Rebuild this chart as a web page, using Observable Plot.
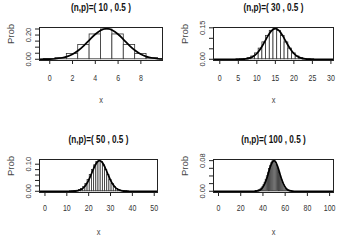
<!DOCTYPE html>
<html>
<head>
<meta charset="utf-8">
<script src="https://cdn.jsdelivr.net/npm/d3@7"></script>
<script src="https://cdn.jsdelivr.net/npm/@observablehq/plot@0.6"></script>
<style>
  html, body { margin: 0; padding: 0; background: #fff; }
  #chart { position: relative; width: 341px; height: 251px; overflow: hidden; }
  #chart svg { position: absolute; overflow: visible; }
</style>
</head>
<body>
<div id="chart"></div>
<script>
// Binomial(n, 0.5) probabilities with their normal approximation, four sample sizes.
const titles = ["(n,p)=( 10 , 0.5 )", "(n,p)=( 30 , 0.5 )", "(n,p)=( 50 , 0.5 )", "(n,p)=( 100 , 0.5 )"];

// n = 10
const k10 = [0, 1, 2, 3, 4, 5, 6, 7, 8, 9, 10];
const prob10 = [0.00098, 0.00977, 0.04395, 0.11719, 0.20508, 0.24609, 0.20508, 0.11719, 0.04395, 0.00977, 0.00098];
const curveX10 = [-1, -0.5, 0, 0.5, 1, 1.5, 2, 2.5, 3, 3.5, 4, 4.5, 5, 5.5, 6, 6.5, 7, 7.5, 8, 8.5, 9, 9.5, 10, 10.5, 11];
const curveY10 = [0.00019, 0.00059, 0.0017, 0.0044, 0.01028, 0.02177, 0.0417, 0.07229, 0.1134, 0.16088, 0.2066, 0.24001, 0.2523,
                  0.24001, 0.2066, 0.16088, 0.1134, 0.07229, 0.0417, 0.02177, 0.01028, 0.0044, 0.0017, 0.00059, 0.00019];

// n = 30
const k30 = [5, 6, 7, 8, 9, 10, 11, 12, 13, 14, 15, 16, 17, 18, 19, 20, 21, 22, 23, 24, 25];
const prob30 = [0.00013, 0.00055, 0.0019, 0.00545, 0.01332, 0.02798, 0.05088, 0.08055, 0.11154, 0.13544, 0.14446,
                0.13544, 0.11154, 0.08055, 0.05088, 0.02798, 0.01332, 0.00545, 0.0019, 0.00055, 0.00013];
const curveX30 = [-2, 4, 5, 6, 7, 8, 9, 10, 11, 12, 13, 14, 15, 16, 17, 18, 19, 20, 21, 22, 23, 24, 25, 26, 32];
const curveY30 = [0, 0.00005, 0.00019, 0.00066, 0.00204, 0.00555, 0.01322, 0.02751, 0.05013, 0.07995, 0.11157, 0.13628, 0.14567,
                  0.13628, 0.11157, 0.07995, 0.05013, 0.02751, 0.01322, 0.00555, 0.00204, 0.00066, 0.00019, 0.00005, 0];

// n = 50
const k50 = [12, 13, 14, 15, 16, 17, 18, 19, 20, 21, 22, 23, 24, 25, 26, 27, 28, 29, 30, 31, 32, 33, 34, 35, 36, 37, 38];
const prob50 = [0.00011, 0.00032, 0.00083, 0.002, 0.00437, 0.00875, 0.01604, 0.02701, 0.04186, 0.0598, 0.07883, 0.09596, 0.10796,
                0.11228, 0.10796, 0.09596, 0.07883, 0.0598, 0.04186, 0.02701, 0.01604, 0.00875, 0.00437, 0.002, 0.00083, 0.00032, 0.00011];
const curveX50 = [-3, 11, 12, 13, 14, 15, 16, 17, 18, 19, 20, 21, 22, 23, 24, 25, 26, 27, 28, 29, 30, 31, 32, 33, 34, 35, 36, 37, 38, 39, 53];
const curveY50 = [0, 0.00004, 0.00013, 0.00036, 0.00089, 0.00207, 0.00442, 0.00872, 0.01589, 0.02674, 0.04151, 0.0595, 0.07873, 0.09616,
                  0.10842, 0.11284, 0.10842, 0.09616, 0.07873, 0.0595, 0.04151, 0.02674, 0.01589, 0.00872, 0.00442, 0.00207,
                  0.00089, 0.00036, 0.00013, 0.00004, 0];

// n = 100
const k100 = [34, 35, 36, 37, 38, 39, 40, 41, 42, 43, 44, 45, 46, 47, 48, 49, 50,
              51, 52, 53, 54, 55, 56, 57, 58, 59, 60, 61, 62, 63, 64, 65, 66];
const prob100 = [0.00046, 0.00086, 0.00156, 0.0027, 0.00447, 0.00711, 0.01084, 0.01587, 0.02229, 0.03007, 0.03895, 0.04847,
                 0.05796, 0.06659, 0.07353, 0.07803, 0.07959, 0.07803, 0.07353, 0.06659, 0.05796, 0.04847, 0.03895, 0.03007,
                 0.02229, 0.01587, 0.01084, 0.00711, 0.00447, 0.0027, 0.00156, 0.00086, 0.00046];
const curveX100 = [-5, 30, 31, 32, 33, 34, 35, 36, 37, 38, 39, 40, 41, 42, 43, 44, 45, 46, 47, 48, 49, 50,
                   51, 52, 53, 54, 55, 56, 57, 58, 59, 60, 61, 62, 63, 64, 65, 66, 67, 68, 69, 70, 105];
const curveY100 = [0, 0.00003, 0.00006, 0.00012, 0.00025, 0.00048, 0.00089, 0.00158, 0.00272, 0.00448, 0.00709, 0.0108, 0.01579,
                   0.02218, 0.02995, 0.03884, 0.04839, 0.05794, 0.06664, 0.07365, 0.07821, 0.07979, 0.07821, 0.07365, 0.06664,
                   0.05794, 0.04839, 0.03884, 0.02995, 0.02218, 0.01579, 0.0108, 0.00709, 0.00448, 0.00272, 0.00158, 0.00089,
                   0.00048, 0.00025, 0.00012, 0.00006, 0.00003, 0];

// Axis ticks and which of them carry labels
const xTicks = [[0, 2, 4, 6, 8], [0, 5, 10, 15, 20, 25, 30], [0, 10, 20, 30, 40, 50], [0, 20, 40, 60, 80, 100]];
const yTicks = [[0, 0.05, 0.1, 0.15, 0.2, 0.25], [0, 0.05, 0.1, 0.15], [0, 0.02, 0.04, 0.06, 0.08, 0.1], [0, 0.02, 0.04, 0.06, 0.08]];
const yLabels = [[0, 0.2], [0, 0.15], [0, 0.1], [0, 0.08]];

// Scale domains (data range padded the way R pads plot regions)
const xDomains = [[-0.9, 9.9], [-1.7, 30.7], [-2.5, 51.5], [-4.5, 103.5]];
const yDomains = [[-0.0101, 0.2624], [-0.0058, 0.1515], [-0.0045, 0.1174], [-0.0032, 0.083]];

const ks = [k10, k30, k50, k100];
const probs = [prob10, prob30, prob50, prob100];
const curveXs = [curveX10, curveX30, curveX50, curveX100];
const curveYs = [curveY10, curveY30, curveY50, curveY100];

// Placement of each panel on the page
const layout = [
  {left: 0,   top: 0,   width: 170, height: 125, ml: 39, mr: 8,  mt: 27, mb: 65, tickPad: 10},
  {left: 170, top: 0,   width: 171, height: 125, ml: 43, mr: 8,  mt: 27, mb: 65, tickPad: 10},
  {left: 0,   top: 125, width: 170, height: 126, ml: 39, mr: 13, mt: 34, mb: 59, tickPad: 8.5},
  {left: 170, top: 125, width: 171, height: 126, ml: 43, mr: 8,  mt: 34, mb: 59, tickPad: 8.5}
];

const font = "'Liberation Sans', Arial, Helvetica, sans-serif";
const narrow = 0.78; // horizontal squeeze applied to upright labels
const chart = document.getElementById("chart");

layout.forEach((L, i) => {
  const bars = ks[i].map((k, j) => ({k, p: probs[i][j]}));
  const curve = curveXs[i].map((x, j) => ({x, y: curveYs[i][j]}));
  const svg = Plot.plot({
    width: L.width,
    height: L.height,
    marginLeft: L.ml,
    marginRight: L.mr,
    marginTop: L.mt,
    marginBottom: L.mb,
    x: {domain: xDomains[i]},
    y: {domain: yDomains[i]},
    style: {fontFamily: font, fontSize: "9px", color: "#333", background: "transparent", overflow: "visible"},
    marks: [
      Plot.rect(bars, {x1: d => d.k - 0.5, x2: d => d.k + 0.5, y1: 0, y2: "p", fill: "white", stroke: "#333", strokeWidth: 0.8, clip: true}),
      Plot.line(curve, {x: "x", y: "y", curve: "monotone-x", stroke: "#000", strokeWidth: 1.7, clip: true}),
      Plot.frame({stroke: "#222", strokeWidth: 1}),
      Plot.axisX({ticks: xTicks[i], tickSize: 4, tickPadding: L.tickPad, label: null, stroke: "#222", fill: "#333"}),
      Plot.axisY({ticks: yTicks[i], tickSize: 4, tickFormat: () => "", label: null, stroke: "#222"}),
      Plot.text(yLabels[i], {y: d => d, frameAnchor: "left", dx: -11, rotate: -90, text: d => d.toFixed(2),
                             textAnchor: "middle", lineAnchor: "middle", fontSize: 7.5, fill: "#333"}),
      Plot.text([titles[i]], {frameAnchor: "top", dy: -19.5, fontWeight: "bold", fontSize: 10.5, fill: "#111",
                              lineAnchor: "middle"}),
      Plot.text(["x"], {frameAnchor: "bottom", dy: 39.3, lineAnchor: "middle", fontSize: 9.5, fill: "#444"}),
      Plot.text(["Prob"], {frameAnchor: "left", dx: -29, rotate: -90, lineAnchor: "middle", fontSize: 9.5, fill: "#444"})
    ]
  });
  svg.style.left = L.left + "px";
  svg.style.top = L.top + "px";
  chart.appendChild(svg);

  // Squeeze upright labels horizontally (rotated ones keep their length)
  svg.querySelectorAll("text").forEach(t => {
    const tr = t.getAttribute("transform") || "";
    if (tr.includes("rotate")) return;
    const len = t.getComputedTextLength();
    if (len > 0) {
      t.setAttribute("textLength", (len * narrow).toFixed(2));
      t.setAttribute("lengthAdjust", "spacingAndGlyphs");
    }
  });
});
</script>
</body>
</html>
